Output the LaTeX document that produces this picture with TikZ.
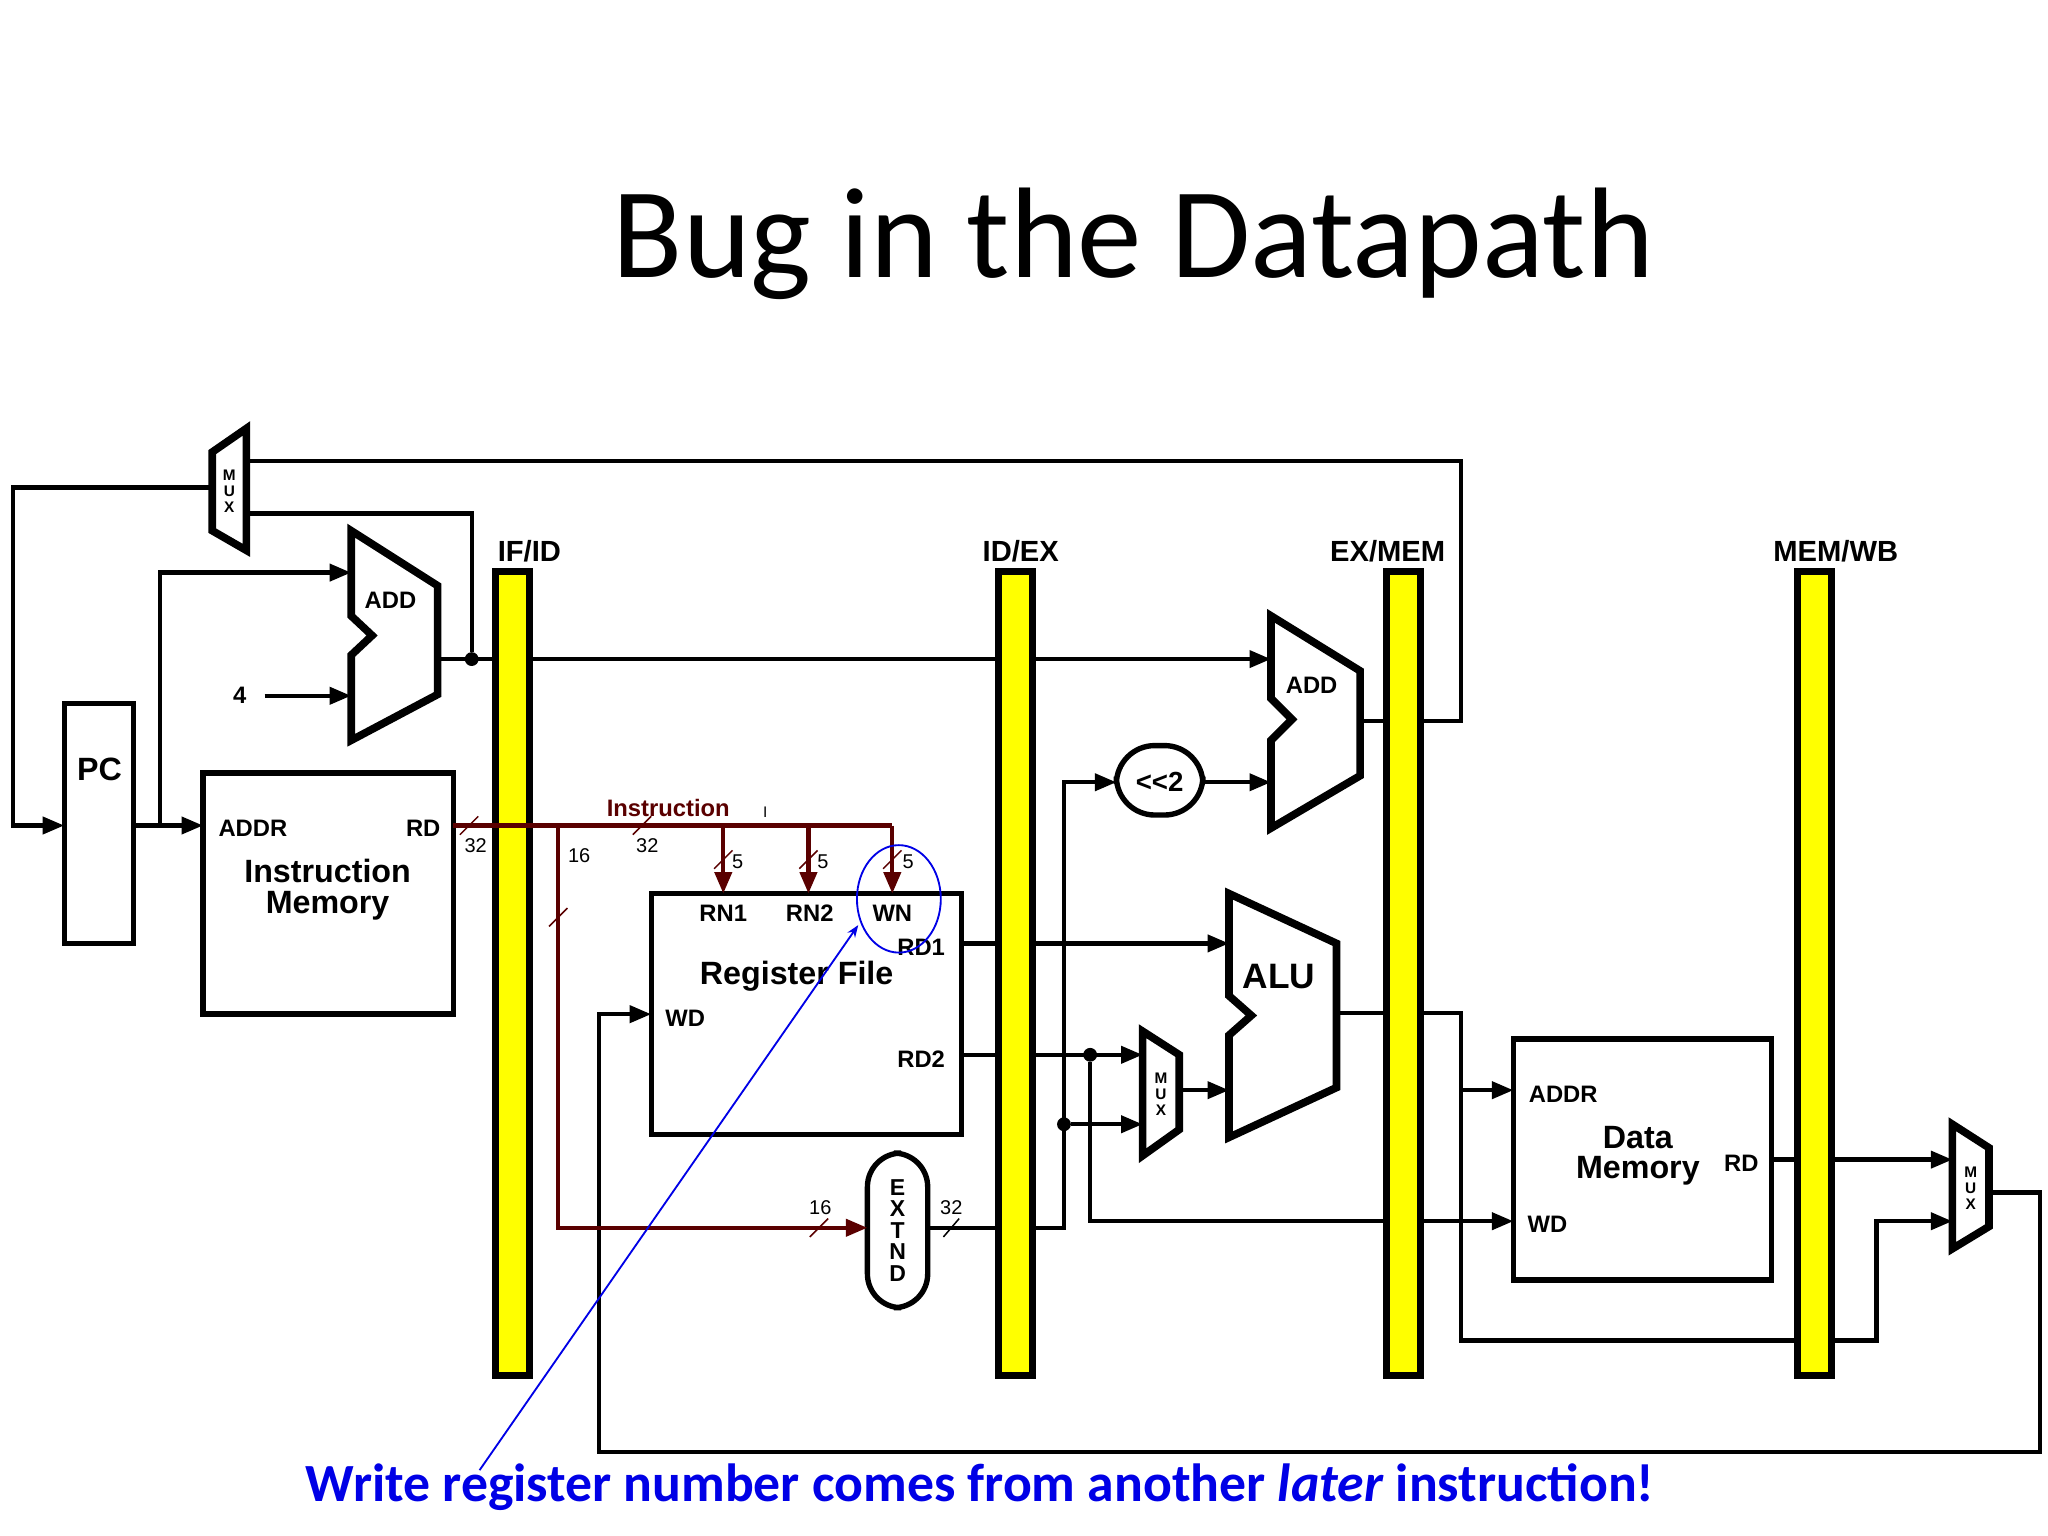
\documentclass[tikz,border=0pt]{standalone}
\usepackage{fontspec}
\setmainfont{Liberation Sans}
\newfontfamily\titlefont{Carlito}
\usetikzlibrary{arrows.meta}
\definecolor{dred}{RGB}{90,0,0}
\definecolor{ybar}{RGB}{255,255,0}
\definecolor{bblue}{RGB}{0,0,230}
\begin{document}
\begin{tikzpicture}[x=0.03cm,y=-0.03cm,
  wire/.style={line width=2.8pt,line join=miter},
  awire/.style={wire,-{Triangle[length=14pt,width=11pt]}},
  rwire/.style={wire,color=dred},
  arwire/.style={rwire,-{Triangle[length=14pt,width=11pt]}},
  blk/.style={line width=3.5pt},
  thk/.style={line width=5pt,line join=miter},
  bar/.style={line width=4.5pt,fill=ybar},
  lbl/.style={font=\bfseries\fontsize{15.5}{17}\selectfont,inner sep=0},
  big/.style={font=\bfseries\fontsize{21}{24}\selectfont,inner sep=0,align=center},
  num/.style={font=\fontsize{13}{14}\selectfont,inner sep=0},
  mux/.style={font=\bfseries\fontsize{10}{10.5}\selectfont,align=center,inner sep=0},
  dot/.style={circle,fill,inner sep=0,minimum size=9pt}]
\useasboundingbox (0,0) rectangle (1563,1172);
\node[font=\titlefont\fontsize{84}{92}\selectfont] (title) at (865,186) {Bug in the Datapath};

% ---------- black wires ----------
\coordinate (pcin) at (49,630);
\draw[awire] (162,372) -- (10,372) -- (10,630) -- (pcin);
\draw[awire] (102,630) -- (155,630);
\draw[awire] (122,630) -- (122,437) -- (268,437);
\node[lbl] (four) at (183,531) {4};
\draw[awire] (202,531) -- (268,531);
\draw[wire] (334,503) -- (378,503);
\node[dot] (d1) at (360,503) {};
\draw[wire] (d1) -- (360,392) -- (188,392);
\draw[wire] (188,352) -- (1115,352) -- (1115,550) -- (1084,550);
\draw[wire] (1038,550) -- (1058,550);
\draw[wire] (404,503) -- (762,503);
\draw[awire] (788,503) -- (970,503);
\draw[awire] (918,597) -- (970,597);
\draw[awire] (788,937) -- (812,937) -- (812,597) -- (852,597);
\node[dot] (d2) at (812,858) {};
\draw[awire] (d2) -- (872,858);
\draw[wire] (734,720) -- (762,720);
\draw[awire] (788,720) -- (938,720);
\draw[wire] (734,805) -- (762,805);
\draw[awire] (788,805) -- (872,805);
\node[dot] (d3) at (832,805) {};
\draw[wire] (d3) -- (832,932) -- (1058,932);
\draw[awire] (1084,932) -- (1155,932);
\draw[awire] (900,832) -- (938,832);
\draw[wire] (1020,773) -- (1058,773);
\draw[wire] (1084,773) -- (1115,773) -- (1115,1023) -- (1372,1023);
\draw[awire] (1115,832) -- (1155,832);
\draw[awire] (1398,1023) -- (1432,1023) -- (1432,932) -- (1490,932);
\draw[wire] (1352,885) -- (1372,885);
\draw[awire] (1398,885) -- (1490,885);
\draw[awire] (1518,910) -- (1557,910) -- (1557,1108) -- (457,1108) -- (457,774) -- (497,774);
\draw[wire] (708,937) -- (762,937);
\draw[line width=1pt] (720,944) -- (732,930);
\node[num] at (726,922) {32};

% ---------- pipeline registers ----------
\foreach \x/\lx/\n/\t in {391/404/ifid/IF\slash ID,775/779/idex/ID\slash EX,1071/1059/exmem/EX\slash MEM,1385/1401/memwb/MEM\slash WB}{
  \draw[bar] (\x-13,436) rectangle (\x+13,1050);
  \node[font=\bfseries\fontsize{19}{21}\selectfont,inner sep=0] (\n) at (\lx,421) {\t};
}

% ---------- blocks ----------
\draw[blk] (49,537) rectangle (102,720);
\node[big] (pc) at (76,587) {PC};
\draw[blk] (155,590) rectangle (346,774);
\node[lbl] (imaddr) at (193,632) {ADDR};
\node[lbl] (imrd) at (323,632) {RD};
\node[big] (im) at (250,679) {Instruction\\[-4pt]Memory};

\draw[thk] (268,405) -- (334,447) -- (334,530) -- (268,565) -- (268,500) -- (284,485) -- (268,470) -- cycle;
\node[lbl] (add1) at (298,458) {ADD};

\draw[thk] (162,345) -- (188,327) -- (188,420) -- (162,405) -- cycle;
\node[mux] (mux1) at (175,375) {M\\U\\X};

\draw[blk] (497,682) rectangle (734,866);
\node[lbl] (rn1) at (552,697) {RN1};
\node[lbl] (rn2) at (618,697) {RN2};
\node[lbl] (wn) at (681,697) {WN};
\node[lbl] (rd1) at (703,723) {RD1};
\node[lbl] (rd2) at (703,808) {RD2};
\node[lbl] (wd) at (523,777) {WD};
\node[big] (rf) at (608,745) {Register File};

\draw[blk,rounded corners=22] (662,880) rectangle (708,998);
\node[font=\bfseries\fontsize{15}{15}\selectfont,align=center,inner sep=0] (ext) at (685,939) {E\\[-1pt]X\\[-1pt]T\\[-1pt]N\\[-1pt]D};

\draw[blk,rounded corners=25] (852,569) rectangle (918,622);
\node[font=\bfseries\fontsize{18}{18}\selectfont,inner sep=0] (sh) at (885,597) {{<}{<}2};

\draw[thk] (970,470) -- (1038,512) -- (1038,592) -- (970,632) -- (970,565) -- (986,549) -- (970,533) -- cycle;
\node[lbl] (add2) at (1001,523) {ADD};

\draw[thk] (938,682) -- (1020,720) -- (1020,830) -- (938,868) -- (938,790) -- (955,775) -- (938,760) -- cycle;
\node[big,font=\bfseries\fontsize{23}{24}\selectfont] (alu) at (976,745) {ALU};

\draw[thk] (872,787) -- (900,805) -- (900,862) -- (872,882) -- cycle;
\node[mux] (mux2) at (886,835) {M\\U\\X};

\draw[blk] (1155,793) rectangle (1352,977);
\node[lbl] (dmaddr) at (1193,835) {ADDR};
\node[lbl] (dmwd) at (1181,934) {WD};
\node[lbl] (dmrd) at (1329,888) {RD};
\node[big] (dm) at (1250,882) {Data\\[-4pt]Memory};

\draw[thk] (1490,858) -- (1518,876) -- (1518,936) -- (1490,953) -- cycle;
\node[mux] (mux3) at (1504,907) {M\\U\\X};

% ---------- instruction (dark red) wires ----------
\draw[rwire] (346,630) -- (681,630);
\draw[arwire] (426,630) -- (426,937) -- (662,937);
\draw[arwire] (552,630) -- (552,682);
\draw[arwire] (617,630) -- (617,682);
\draw[arwire] (681,630) -- (681,682);
\foreach \p in {(358,630),(490,630),(552,656),(617,656),(681,656),(426,700),(625,937)}
  \draw[line width=1pt,color=dred] \p ++(-7,7) -- ++(14,-14);
\node[num] at (363,645) {32};
\node[num] at (494,645) {32};
\node[num] at (442,653) {16};
\node[num] at (563,658) {5};
\node[num] at (628,658) {5};
\node[num] at (693,658) {5};
\node[num] at (626,922) {16};
\node[lbl,color=dred] (instr) at (510,617) {Instruction};
\node[num,font=\fontsize{10}{10}\selectfont] at (584,620) {I};

% ---------- annotation ----------
\draw[bblue,line width=1.2pt] (686,686) ellipse [x radius=32,y radius=41];
\coordinate (tip) at (655,706);
\draw[bblue,line width=1.2pt,-{Stealth[length=8pt]}] (366,1122) -- (tip);
\node[font=\titlefont\bfseries\fontsize{35}{38}\selectfont,color=bblue,inner sep=0] (note) at (748,1135) {Write register number comes from another \textit{later} instruction!};
\end{tikzpicture}
\end{document}
